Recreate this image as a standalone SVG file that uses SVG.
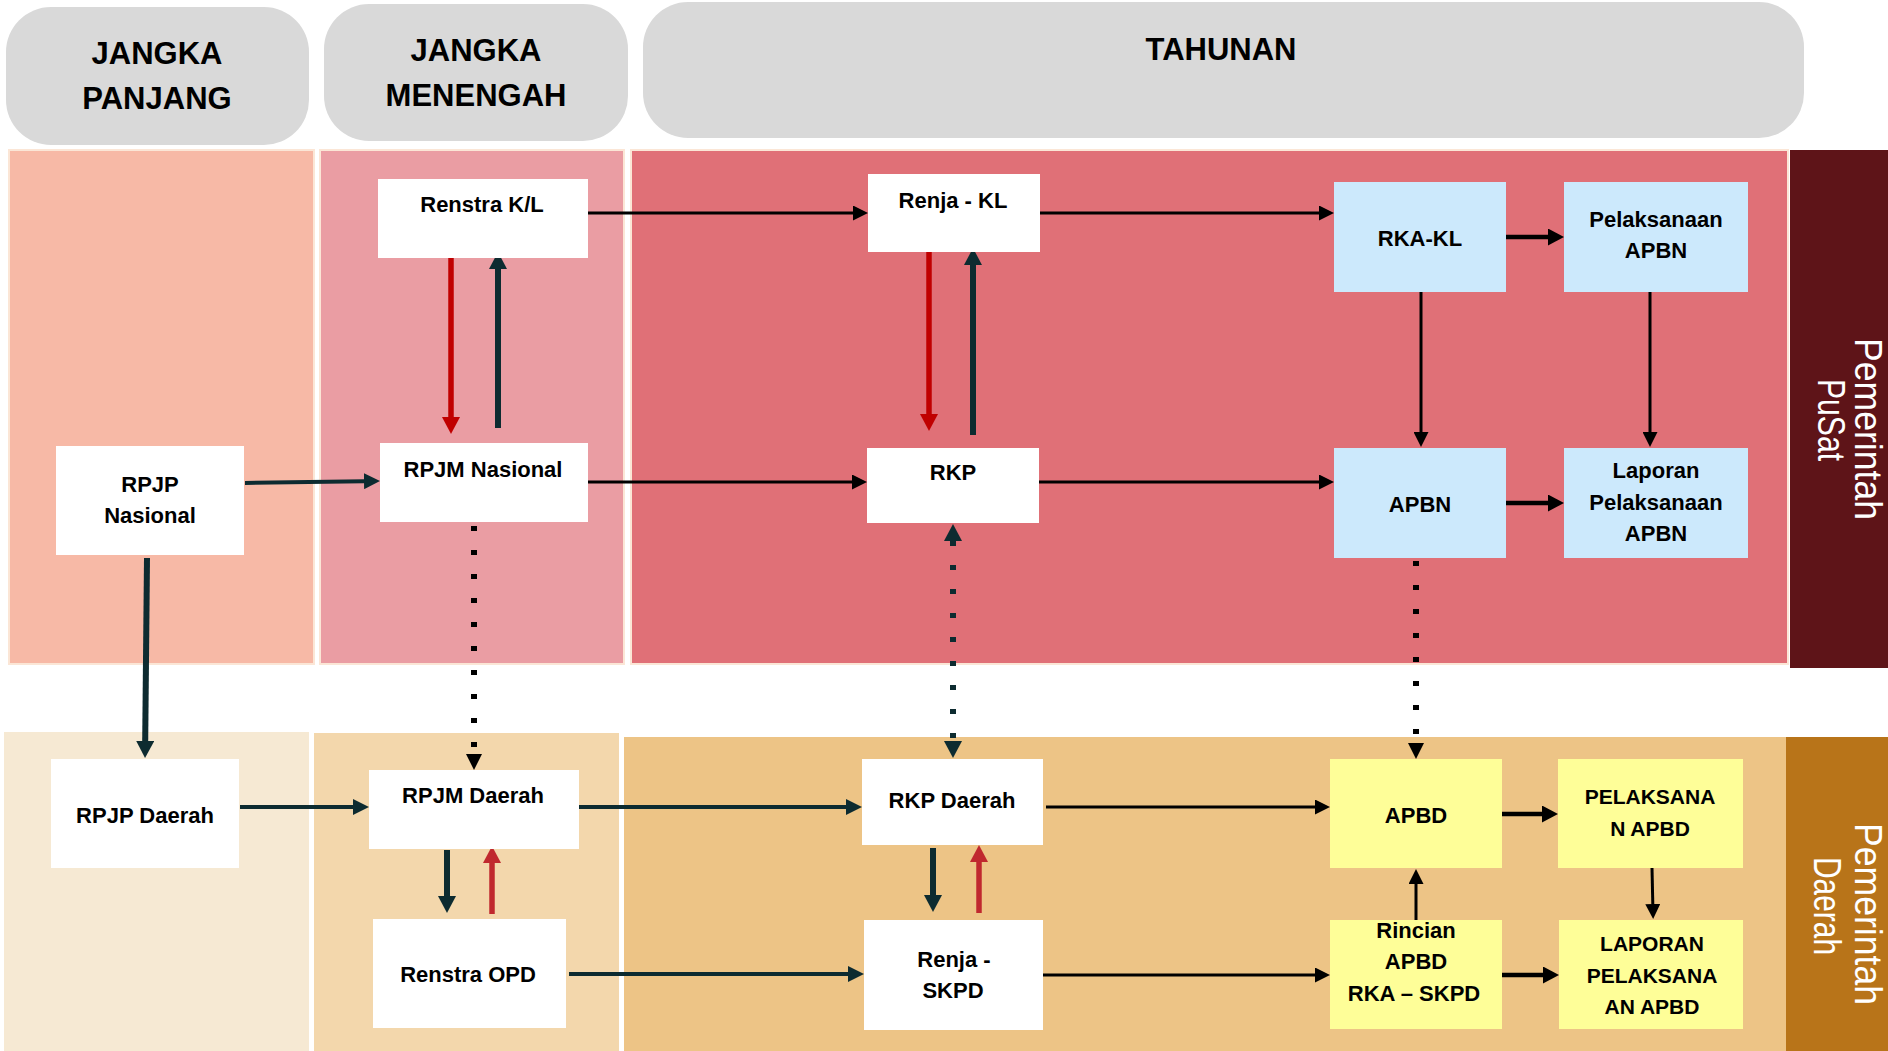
<svg xmlns="http://www.w3.org/2000/svg" width="1888" height="1051" viewBox="0 0 1888 1051">
<style>
.hdr{fill:#d9d9d9}
.htxt{font-family:"Liberation Sans",Arial,sans-serif;font-weight:bold;font-size:31px;fill:#000;text-anchor:middle}
.t{font-family:"Liberation Sans",Arial,sans-serif;font-weight:bold;font-size:22px;fill:#000;text-anchor:middle}
.tc{font-family:"Liberation Sans",Arial,sans-serif;font-weight:bold;font-size:21px;fill:#000;text-anchor:middle}
.side{font-family:"Liberation Sans",Arial,sans-serif;font-size:39px;fill:#fff;text-anchor:middle}
.pu{stroke:#fbe6d6;stroke-width:2}
.w{fill:#fff}
.b{fill:#cce9fc}
.y{fill:#fefe98}
.k3{stroke:#000;stroke-width:3;fill:none}
.k4{stroke:#000;stroke-width:4.5;fill:none}
.tl4{stroke:#0d2b30;stroke-width:4;fill:none}
.tl6{stroke:#0d2b30;stroke-width:6;fill:none}
.r6{stroke:#c00000;stroke-width:5.5;fill:none}
.r6b{stroke:#c0282e;stroke-width:5.5;fill:none}
.dk{stroke:#000;stroke-width:6;stroke-dasharray:5 19;fill:none}
.dt{stroke:#0d2b30;stroke-width:6;stroke-dasharray:5 19;fill:none}
</style>
<defs>
<marker id="mk" markerUnits="userSpaceOnUse" markerWidth="15" markerHeight="15" refX="0" refY="7.5" orient="auto"><path d="M0,0 L15,7.5 L0,15 z" fill="#000"/></marker>
<marker id="mkb" markerUnits="userSpaceOnUse" markerWidth="16" markerHeight="17" refX="0" refY="8.5" orient="auto"><path d="M0,0 L16,8.5 L0,17 z" fill="#000"/></marker>
<marker id="mt" markerUnits="userSpaceOnUse" markerWidth="16" markerHeight="16" refX="0" refY="8" orient="auto"><path d="M0,0 L16,8 L0,16 z" fill="#0d2b30"/></marker>
<marker id="mtb" markerUnits="userSpaceOnUse" markerWidth="17" markerHeight="18" refX="0" refY="9" orient="auto"><path d="M0,0 L17,9 L0,18 z" fill="#0d2b30"/></marker>
<marker id="mtr" markerUnits="userSpaceOnUse" markerWidth="17" markerHeight="18" refX="0" refY="9" orient="auto-start-reverse"><path d="M0,0 L17,9 L0,18 z" fill="#0d2b30"/></marker>
<marker id="mr" markerUnits="userSpaceOnUse" markerWidth="17" markerHeight="18" refX="0" refY="9" orient="auto"><path d="M0,0 L17,9 L0,18 z" fill="#c00000"/></marker>
<marker id="mr2" markerUnits="userSpaceOnUse" markerWidth="17" markerHeight="18" refX="0" refY="9" orient="auto"><path d="M0,0 L17,9 L0,18 z" fill="#c0282e"/></marker>
<marker id="mkd" markerUnits="userSpaceOnUse" markerWidth="16" markerHeight="16" refX="0" refY="8" orient="auto"><path d="M0,0 L16,8 L0,16 z" fill="#000"/></marker>
</defs>
<rect width="1888" height="1051" fill="#fff"/>
<g id="headers">
<rect class="hdr" x="6" y="7" width="303" height="138" rx="45"/>
<text class="htxt" x="157" y="64">JANGKA</text>
<text class="htxt" x="157" y="109">PANJANG</text>
<rect class="hdr" x="324" y="4" width="304" height="137" rx="45"/>
<text class="htxt" x="476" y="61">JANGKA</text>
<text class="htxt" x="476" y="106">MENENGAH</text>
<rect class="hdr" x="643" y="2" width="1161" height="136" rx="45"/>
<text class="htxt" x="1221" y="60">TAHUNAN</text>
</g>
<g id="panels">
<rect class="pu" x="9" y="150" width="305" height="514" fill="#f7b9a6"/>
<rect class="pu" x="320" y="150" width="304" height="514" fill="#ea9da3"/>
<rect class="pu" x="631" y="150" width="1157" height="514" fill="#e07077"/>
<rect x="1790" y="150" width="98" height="518" fill="#5e1418"/>
<text class="side" transform="translate(1855,429) rotate(90)" textLength="182" lengthAdjust="spacingAndGlyphs">Pemerintah</text>
<text class="side" transform="translate(1818,420) rotate(90)" textLength="82" lengthAdjust="spacingAndGlyphs">PuSat</text>
<rect x="4" y="732" width="305" height="319" fill="#f6e9d3"/>
<rect x="314" y="733" width="305" height="318" fill="#f3d7ac"/>
<rect x="624" y="737" width="1162" height="314" fill="#edc486"/>
<rect x="1786" y="737" width="102" height="314" fill="#b87419"/>
<text class="side" transform="translate(1855,914) rotate(90)" textLength="182" lengthAdjust="spacingAndGlyphs">Pemerintah</text>
<text class="side" transform="translate(1814,906) rotate(90)" textLength="98" lengthAdjust="spacingAndGlyphs">Daerah</text>
</g>
<g id="connectors">
<line class="tl4" x1="245" y1="483" x2="364" y2="481.2" marker-end="url(#mt)"/>
<line class="tl6" x1="147" y1="558" x2="145.2" y2="741" marker-end="url(#mtb)"/>
<line class="k3" x1="588" y1="213" x2="853" y2="213" marker-end="url(#mk)"/>
<line class="k3" x1="1040" y1="213" x2="1319" y2="213" marker-end="url(#mk)"/>
<line class="k4" x1="1506" y1="237" x2="1548" y2="237" marker-end="url(#mkb)"/>
<line class="k3" x1="1421" y1="292" x2="1421" y2="432" marker-end="url(#mk)"/>
<line class="k3" x1="1650" y1="292" x2="1650" y2="432" marker-end="url(#mk)"/>
<line class="r6" x1="451" y1="258" x2="451" y2="417" marker-end="url(#mr)"/>
<line class="tl6" x1="498" y1="428" x2="498" y2="269" marker-end="url(#mtb)"/>
<line class="r6" x1="929" y1="252" x2="929" y2="414" marker-end="url(#mr)"/>
<line class="tl6" x1="973" y1="435" x2="973" y2="265" marker-end="url(#mtb)"/>
<line class="k3" x1="588" y1="482" x2="852" y2="482" marker-end="url(#mk)"/>
<line class="k3" x1="1039" y1="482" x2="1319" y2="482" marker-end="url(#mk)"/>
<line class="k4" x1="1506" y1="503" x2="1548" y2="503" marker-end="url(#mkb)"/>
<line class="dk" x1="474" y1="526" x2="474" y2="754" marker-end="url(#mkd)"/>
<line class="dt" x1="953" y1="541" x2="953" y2="741" marker-start="url(#mtr)" marker-end="url(#mtr)"/>
<line class="dk" x1="1416" y1="561" x2="1416" y2="743" marker-end="url(#mkd)"/>
<line class="tl4" x1="240" y1="807" x2="353" y2="807" marker-end="url(#mt)"/>
<line class="tl4" x1="579" y1="807" x2="846" y2="807" marker-end="url(#mt)"/>
<line class="tl4" x1="569" y1="974" x2="848" y2="974" marker-end="url(#mt)"/>
<line class="tl6" x1="447" y1="850" x2="447" y2="896" marker-end="url(#mtb)"/>
<line class="r6b" x1="492" y1="914" x2="492" y2="863" marker-end="url(#mr2)"/>
<line class="tl6" x1="933" y1="848" x2="933" y2="895" marker-end="url(#mtb)"/>
<line class="r6b" x1="979" y1="913" x2="979" y2="862" marker-end="url(#mr2)"/>
<line class="k3" x1="1046" y1="807" x2="1315" y2="807" marker-end="url(#mk)"/>
<line class="k3" x1="1043" y1="975" x2="1315" y2="975" marker-end="url(#mk)"/>
<line class="k4" x1="1502" y1="814" x2="1542" y2="814" marker-end="url(#mkb)"/>
<line class="k3" x1="1652" y1="868" x2="1652.8" y2="904" marker-end="url(#mk)"/>
<line class="k3" x1="1416" y1="921" x2="1416" y2="884" marker-end="url(#mk)"/>
<line class="k4" x1="1502" y1="975" x2="1543" y2="975" marker-end="url(#mkb)"/>
</g>
<g id="n-rpjp-nasional"><rect class="w" x="56" y="446" width="188" height="109"/><text class="t" x="150" y="492">RPJP</text><text class="t" x="150" y="523">Nasional</text></g>
<g id="n-renstra-kl"><rect class="w" x="378" y="179" width="210" height="79"/><text class="t" x="482" y="212">Renstra K/L</text></g>
<g id="n-rpjm-nasional"><rect class="w" x="380" y="443" width="208" height="79"/><text class="t" x="483" y="477">RPJM Nasional</text></g>
<g id="n-renja-kl"><rect class="w" x="868" y="174" width="172" height="78"/><text class="t" x="953" y="208">Renja - KL</text></g>
<g id="n-rkp"><rect class="w" x="867" y="448" width="172" height="75"/><text class="t" x="953" y="480">RKP</text></g>
<g id="n-rka-kl"><rect class="b" x="1334" y="182" width="172" height="110"/><text class="t" x="1420" y="246">RKA-KL</text></g>
<g id="n-pelaksanaan-apbn"><rect class="b" x="1564" y="182" width="184" height="110"/><text class="t" x="1656" y="227">Pelaksanaan</text><text class="t" x="1656" y="258">APBN</text></g>
<g id="n-apbn"><rect class="b" x="1334" y="448" width="172" height="110"/><text class="t" x="1420" y="512">APBN</text></g>
<g id="n-laporan-apbn"><rect class="b" x="1564" y="448" width="184" height="110"/><text class="t" x="1656" y="478">Laporan</text><text class="t" x="1656" y="510">Pelaksanaan</text><text class="t" x="1656" y="541">APBN</text></g>
<g id="n-rpjp-daerah"><rect class="w" x="51" y="759" width="188" height="109"/><text class="t" x="145" y="823">RPJP Daerah</text></g>
<g id="n-rpjm-daerah"><rect class="w" x="369" y="770" width="210" height="79"/><text class="t" x="473" y="803">RPJM Daerah</text></g>
<g id="n-renstra-opd"><rect class="w" x="373" y="919" width="193" height="109"/><text class="t" x="468" y="982">Renstra OPD</text></g>
<g id="n-rkp-daerah"><rect class="w" x="862" y="759" width="181" height="86"/><text class="t" x="952" y="808">RKP Daerah</text></g>
<g id="n-renja-skpd"><rect class="w" x="864" y="920" width="179" height="110"/><text class="t" x="954" y="967">Renja -</text><text class="t" x="953" y="998">SKPD</text></g>
<g id="n-apbd"><rect class="y" x="1330" y="759" width="172" height="109"/><text class="t" x="1416" y="823">APBD</text></g>
<g id="n-pelaksanaan-apbd"><rect class="y" x="1558" y="759" width="185" height="109"/><text class="tc" x="1650" y="804">PELAKSANA</text><text class="tc" x="1650" y="836">N APBD</text></g>
<g id="n-rincian-apbd"><rect class="y" x="1330" y="920" width="172" height="109"/><text class="t" x="1416" y="938">Rincian</text><text class="t" x="1416" y="969">APBD</text><text class="t" x="1414" y="1001">RKA – SKPD</text></g>
<g id="n-laporan-apbd"><rect class="y" x="1559" y="920" width="184" height="109"/><text class="tc" x="1652" y="951">LAPORAN</text><text class="tc" x="1652" y="983">PELAKSANA</text><text class="tc" x="1652" y="1014">AN APBD</text></g>
</svg>
